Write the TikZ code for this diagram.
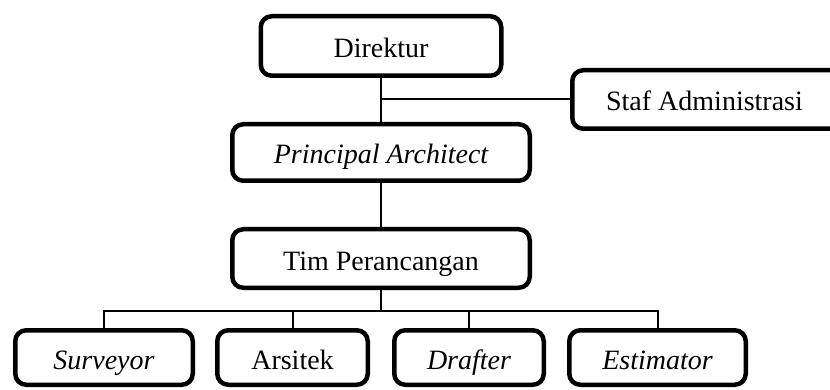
\documentclass[tikz,border=0pt]{standalone}
\usepackage{fontspec}
\setmainfont{Liberation Serif}
\begin{document}
\begin{tikzpicture}[x=1pt,y=-1pt,
  box/.style={draw=black, line width=4.5pt, rounded corners=11pt, inner sep=0pt,
              fill=white, font=\fontsize{28}{30}\selectfont,
              text height=23pt, text depth=0pt},
  link/.style={line width=2pt, draw=black}]
\useasboundingbox (0,0) rectangle (830,390);
\coordinate (bus) at (381,311);
% nodes
\node[box, minimum width=240.5pt, minimum height=59.5pt] (dir) at (381,46) {Direktur};
\node[box, minimum width=275.5pt, minimum height=58.5pt] (st) at (710,99.5) {\hspace*{-11pt}Staf Administrasi};
\node[box, minimum width=297.5pt, minimum height=56.5pt] (pa) at (381,152.5) {\itshape Principal Architect};
\node[box, minimum width=297.5pt, minimum height=58.5pt] (tim) at (381,258.5) {Tim Perancangan};
\node[box, minimum width=177.5pt, minimum height=54.5pt] (sv) at (104,357.5) {\itshape Surveyor};
\node[box, minimum width=150.5pt, minimum height=54.5pt] (ar) at (292.5,357.5) {Arsitek};
\node[box, minimum width=149.5pt, minimum height=54.5pt] (dr) at (469,357.5) {\itshape Drafter};
\node[box, minimum width=176.5pt, minimum height=54.5pt] (es) at (657.5,357.5) {\itshape Estimator};
% connectors
\draw[link] (dir.south) -- (pa.north);
\draw[link] (dir.south |- st.west) -- (st.west);
\draw[link] (pa.south) -- (tim.north);
\draw[link] (tim.south) -- (tim.south |- bus);
\draw[link] (sv.north) -- (sv.north |- bus) -| (es.north);
\draw[link] (ar.north) -- (ar.north |- bus);
\draw[link] (dr.north) -- (dr.north |- bus);
\end{tikzpicture}
\end{document}
